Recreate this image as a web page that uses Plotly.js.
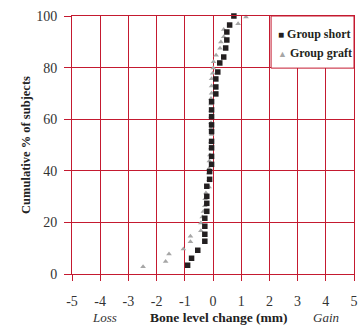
<!DOCTYPE html>
<html>
<head>
<meta charset="utf-8">
<script src="https://cdn.plot.ly/plotly-3.0.1.min.js"></script>
<style>html,body{margin:0;padding:0;background:#fff;}#chart{width:359px;height:325px;}</style>
</head>
<body>
<div id="chart"></div>
<script>
// Group short (black squares): bone level change (mm) and cumulative %
var shortX = [-0.90, -0.76, -0.54, -0.29, -0.29, -0.29, -0.29, -0.22, -0.22, -0.22, -0.22, -0.12, -0.12, -0.05, -0.05, -0.05, -0.05, -0.05, -0.05, -0.05, -0.05, -0.05, 0.10, 0.10, 0.10, 0.17, 0.24, 0.38, 0.45, 0.49, 0.49, 0.59, 0.74];
var shortY = [3.4, 6.1, 9.2, 12.7, 15.4, 18.5, 21.6, 24.3, 27.4, 30.1, 34.0, 36.7, 39.7, 42.5, 45.6, 48.9, 51.4, 55.2, 57.8, 61.0, 63.6, 66.8, 69.8, 72.5, 75.6, 78.3, 81.8, 84.1, 87.6, 90.7, 93.8, 96.5, 100];
// Group graft (grey triangles)
var graftX = [-2.48, -1.68, -1.56, -1.05, -0.80, -0.80, -0.43, -0.43, -0.38, -0.34, -0.29, -0.28, -0.25, -0.14, -0.14, -0.15, -0.14, -0.13, -0.11, -0.08, -0.08, -0.05, -0.07, -0.07, -0.07, -0.07, -0.07, -0.07, -0.05, -0.05, -0.05, -0.01, 0.01, 0.02, 0.11, 0.25, 0.28, 0.38, 0.38, 0.89, 1.17];
var graftY = [2.8, 4.8, 7.8, 9.7, 12.5, 14.6, 16.8, 19.8, 22.1, 24.2, 26.5, 29.2, 31.4, 33.7, 36.5, 39.1, 40.9, 43.8, 46.1, 48.8, 51.2, 54.1, 56.3, 58.6, 61.0, 63.4, 65.9, 68.0, 70.1, 72.9, 75.7, 77.8, 79.8, 82.3, 84.8, 87.5, 89.9, 92.0, 94.8, 97.0, 99.6];
var xTicks = [-5, -4, -3, -2, -1, 0, 1, 2, 3, 4, 5];
var yTicks = [0, 20, 40, 60, 80, 100];
var seriesNames = ["Group short", "Group graft"];

var red = "#c41a30";
var serif = "Liberation Serif, Times New Roman, serif";

var traces = [
  {x: graftX, y: graftY, type: "scatter", mode: "markers", name: seriesNames[1],
   marker: {symbol: "triangle-up", size: 5, color: "#a6a6a6"}, showlegend: false, cliponaxis: false},
  {x: shortX, y: shortY, type: "scatter", mode: "markers", name: seriesNames[0],
   marker: {symbol: "square", size: 5.5, color: "#231f20"}, showlegend: false, cliponaxis: false}
];

var layout = {
  width: 359, height: 325,
  margin: {l: 72, r: 5, t: 16, b: 51, pad: 0},
  paper_bgcolor: "#fff", plot_bgcolor: "#fff",
  font: {family: serif, size: 13, color: "#333"},
  xaxis: {
    range: [-5, 5], tickvals: xTicks, ticktext: xTicks.map(String),
    showgrid: true, gridcolor: red, gridwidth: 1, zeroline: false,
    showline: true, linecolor: red, linewidth: 1, mirror: true,
    ticks: "outside", ticklen: 6, tickcolor: red, tickwidth: 1,
    ticklabelstandoff: 8,
    tickfont: {family: serif, size: 14, color: "#333"}
  },
  yaxis: {
    range: [0, 100], tickvals: yTicks,
    showgrid: true, gridcolor: red, gridwidth: 1, zeroline: false,
    showline: true, linecolor: red, linewidth: 1, mirror: true,
    ticks: "outside", ticklen: 7, tickcolor: red, tickwidth: 1,
    ticklabelstandoff: 4,
    tickfont: {family: serif, size: 14, color: "#333"},
    title: {text: "Cumulative % of subjects", font: {family: serif, size: 12.5, color: "#222", weight: "bold"}, standoff: 2}
  },
  shapes: [
    {type: "rect", xref: "paper", yref: "paper", x0: 0.706, x1: 1, y0: 0.798, y1: 1,
     fillcolor: "#fff", line: {color: red, width: 1}, layer: "above"}
  ],
  annotations: [
    {xref: "paper", yref: "paper", x: 0.725, y: 0.93, xanchor: "left", yanchor: "middle", showarrow: false,
     text: "<span style='color:#231f20;font-size:10px'>■</span> <b>" + seriesNames[0] + "</b>", font: {family: serif, size: 12, color: "#231f20"}},
    {xref: "paper", yref: "paper", x: 0.725, y: 0.857, xanchor: "left", yanchor: "middle", showarrow: false,
     text: "<span style='color:#a6a6a6;font-size:9px'>▲</span> <b>" + seriesNames[1] + "</b>", font: {family: serif, size: 12, color: "#231f20"}},
    {xref: "paper", yref: "paper", x: 0.523, y: -0.17, xanchor: "center", yanchor: "middle", showarrow: false,
     text: "<b>Bone level change (mm)</b>", font: {family: serif, size: 13.5, color: "#222"}},
    {xref: "paper", yref: "paper", x: 0.115, y: -0.17, xanchor: "center", yanchor: "middle", showarrow: false,
     text: "<i>Loss</i>", font: {family: serif, size: 13, color: "#333"}},
    {xref: "paper", yref: "paper", x: 0.9, y: -0.17, xanchor: "center", yanchor: "middle", showarrow: false,
     text: "<i>Gain</i>", font: {family: serif, size: 13, color: "#333"}}
  ]
};

Plotly.newPlot("chart", traces, layout, {displayModeBar: false, staticPlot: true});
</script>
</body>
</html>
